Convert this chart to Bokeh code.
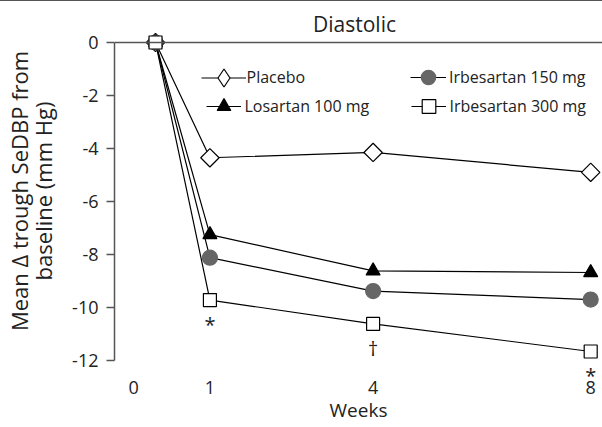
from bokeh.plotting import figure
from bokeh.models import (ColumnDataSource, Legend, LegendItem, Span, Label,
                          FixedTicker, Range1d)
from bokeh.embed import file_html
from bokeh.resources import INLINE
from bokeh.core.properties import value
import math

# ---- data ----
weeks = [0, 1, 4, 8]
placebo = [0.0, -4.35, -4.15, -4.90]
losartan_100 = [0.0, -7.25, -8.62, -8.68]
irbesartan_150 = [0.0, -8.12, -9.38, -9.70]
irbesartan_300 = [0.0, -9.72, -10.62, -11.66]

sig_weeks = [1, 4, 8]
sig_marks = ["*", "\u2020", "*"]

x_tick_labels = ["0", "1", "4", "8"]
x_tick_positions = [-0.4, 1, 4, 8]
y_ticks = [0, -2, -4, -6, -8, -10, -12]
y_tick_labels = ["0", "-2", "-4", "-6", "-8", "-10", "-12"]

title_text = "Diastolic"
x_label = "Weeks"
y_label = "Mean \u0394 trough SeDBP from\nbaseline (mm Hg)"

FONT = "Open Sans"
TXT = "#222222"
AX = "#555555"

p = figure(width=602, height=426, output_backend="svg", toolbar_location=None,
           x_range=Range1d(-0.754, 8.217), y_range=Range1d(-12.755, 1.547),
           min_border_left=114, min_border_right=0, min_border_top=0,
           min_border_bottom=47)
p.outline_line_color = None
p.xgrid.visible = False
p.ygrid.visible = False
p.background_fill_color = "white"
p.border_fill_color = "white"
p.styles = {"border-top": "1px solid #555555"}

# axes
ya = p.yaxis[0]
ya.ticker = FixedTicker(ticks=y_ticks)
ya.major_label_overrides = {t: s for t, s in zip(y_ticks, y_tick_labels)}
ya.bounds = (-12, 0)
ya.axis_line_color = AX
ya.axis_line_width = 1.5
ya.major_tick_line_color = AX
ya.major_tick_line_width = 1.5
ya.major_tick_out = 8
ya.major_tick_in = 0
ya.minor_tick_line_color = None
ya.major_label_standoff = 8
ya.major_label_text_font = FONT
ya.major_label_text_font_size = "18px"
ya.major_label_text_color = TXT
ya.axis_label = y_label
ya.axis_label_text_font = FONT
ya.axis_label_text_font_size = "22px"
ya.axis_label_text_line_height = 0.8
ya.axis_label_text_font_style = "normal"
ya.axis_label_text_color = TXT
ya.axis_label_standoff = 11

xa = p.xaxis[0]
xa.ticker = FixedTicker(ticks=x_tick_positions)
xa.major_label_overrides = {pos: lab for pos, lab in zip(x_tick_positions, x_tick_labels)}
xa.axis_line_color = None
xa.major_tick_line_color = None
xa.minor_tick_line_color = None
xa.major_tick_out = 0
xa.major_tick_in = 0
xa.major_label_standoff = 0
xa.major_label_text_font = FONT
xa.major_label_text_font_size = "18px"
xa.major_label_text_color = TXT
xa.axis_label = x_label
xa.axis_label_text_font = FONT
xa.axis_label_text_font_size = "19px"
xa.axis_label_text_font_style = "normal"
xa.axis_label_text_color = TXT
xa.axis_label_standoff = 0

# title box bottom rule at y = 0
p.add_layout(Span(location=0, dimension="width", line_color=AX, line_width=1.5))
p.add_layout(Label(x=240, y=357, x_units="screen", y_units="screen", text=title_text,
                   text_align="center", text_baseline="middle", text_font=FONT,
                   text_font_size="21px", text_color=TXT))

src = ColumnDataSource(dict(weeks=weeks, placebo=placebo, losartan_100=losartan_100,
                            irbesartan_150=irbesartan_150, irbesartan_300=irbesartan_300))

styles = {
    "placebo": dict(marker="square", angle=math.pi / 4, size=13, fill_color="white", line_color="black"),
    "losartan_100": dict(marker="triangle", angle=0, size=14, fill_color="black", line_color="black"),
    "irbesartan_150": dict(marker="circle", angle=0, size=15, fill_color="#666666", line_color="#666666"),
    "irbesartan_300": dict(marker="square", angle=0, size=13, fill_color="white", line_color="black"),
}
order = ["placebo", "losartan_100", "irbesartan_150", "irbesartan_300"]
names = {"placebo": "Placebo", "losartan_100": "Losartan 100 mg",
         "irbesartan_150": "Irbesartan 150 mg", "irbesartan_300": "Irbesartan 300 mg"}

lines = {}
for key in order:
    lines[key] = p.line("weeks", key, source=src, line_color="black", line_width=1.2)

# diamond marker under the rotated square: used for the legend swatch of Placebo
placebo_diamond = p.scatter("weeks", "placebo", source=src, marker="diamond", size=12,
                            fill_color="white", line_color="black", line_width=1.2)

marks = {}
for key in order:
    st = styles[key]
    marks[key] = p.scatter("weeks", key, source=src, marker=st["marker"], angle=st["angle"],
                           size=st["size"], fill_color=st["fill_color"],
                           line_color=st["line_color"], line_width=1.2)
legend_marks = dict(marks)
legend_marks["placebo"] = placebo_diamond

# significance marks under Irbesartan 300 mg
sig_y = [irbesartan_300[weeks.index(w)] for w in sig_weeks]
p.text(x=sig_weeks, y=sig_y, text=sig_marks, text_align="center", text_baseline="top",
       y_offset=11, text_font=value(FONT), text_font_size="20px", text_color=TXT)

def make_legend(key, loc, gw, gh, standoff):
    item = LegendItem(label=names[key], renderers=[lines[key], legend_marks[key]])
    lg = Legend(items=[item], location=loc, padding=0, margin=0, spacing=0,
                glyph_width=gw, glyph_height=gh, label_height=20, label_standoff=standoff,
                label_text_font=FONT, label_text_font_size="16px", label_text_color=TXT,
                border_line_color=None, background_fill_alpha=0)
    p.add_layout(lg)

make_legend("placebo", (86.5, 280.5), 45, 45, 1)
make_legend("losartan_100", (91.5, 257), 35, 34, 4)
make_legend("irbesartan_150", (296, 285), 36, 36, 3)
make_legend("irbesartan_300", (296.5, 257), 35, 34, 4)

open("out.html", "w").write(file_html(p, INLINE))
